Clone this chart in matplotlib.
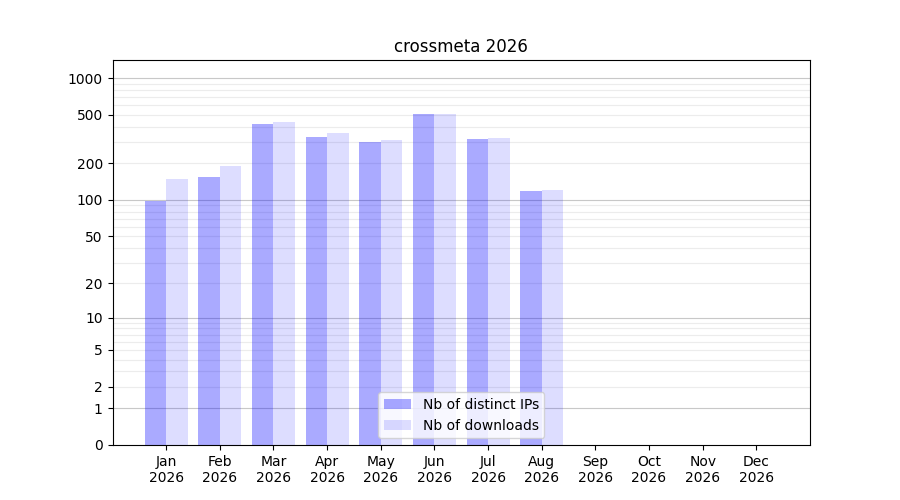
import numpy as np
import matplotlib
matplotlib.use("Agg")
import matplotlib.pyplot as plt
from matplotlib.ticker import FixedLocator, FixedFormatter

months = ["Jan", "Feb", "Mar", "Apr", "May", "Jun", "Jul", "Aug", "Sep", "Oct", "Nov", "Dec"]
year = "2026"
distinct_ips = [98, 155, 421, 329, 299, 508, 317, 118]
downloads = [148, 191, 437, 355, 311, 510, 323, 121]
ytick_values = [0, 1, 2, 5, 10, 20, 50, 100, 200, 500, 1000]

def fwd(y):
    return np.log10(1 + np.clip(y, 0, None))

def inv(y):
    return 10 ** y - 1

fig, ax = plt.subplots(figsize=(9, 5), dpi=100)
ax.set_yscale("function", functions=(fwd, inv))

x = np.arange(len(months))
xd = np.arange(len(distinct_ips))
w = 0.4
ax.bar(xd - w, distinct_ips, width=w, align="edge", color="blue", alpha=0.333,
       label="Nb of distinct IPs", zorder=2)
ax.bar(xd, downloads, width=w, align="edge", color="blue", alpha=0.133,
       label="Nb of downloads", zorder=2)

ax.set_xticks(x)
ax.set_xticklabels([f"{m}\n{year}" for m in months])
ax.set_xlim(-1, len(months))

ax.set_ylim(0, 1405)
ax.yaxis.set_major_locator(FixedLocator(ytick_values))
ax.yaxis.set_major_formatter(FixedFormatter([str(v) for v in ytick_values]))
minor = [v * d for d in (1, 10, 100) for v in range(2, 10)] + [1000]
ax.yaxis.set_minor_locator(FixedLocator(minor))
ax.tick_params(axis="y", which="minor", length=0)
for v in [1, 10, 100, 1000]:
    ax.axhline(v, color="#c8c8c8", lw=0.8, zorder=1)
for v in minor:
    if v not in (10, 100, 1000):
        ax.axhline(v, color="#ececec", lw=0.8, zorder=1)

ax.set_title("crossmeta 2026")
ax.legend(loc="lower center")
fig.savefig("out.png", dpi=100)
